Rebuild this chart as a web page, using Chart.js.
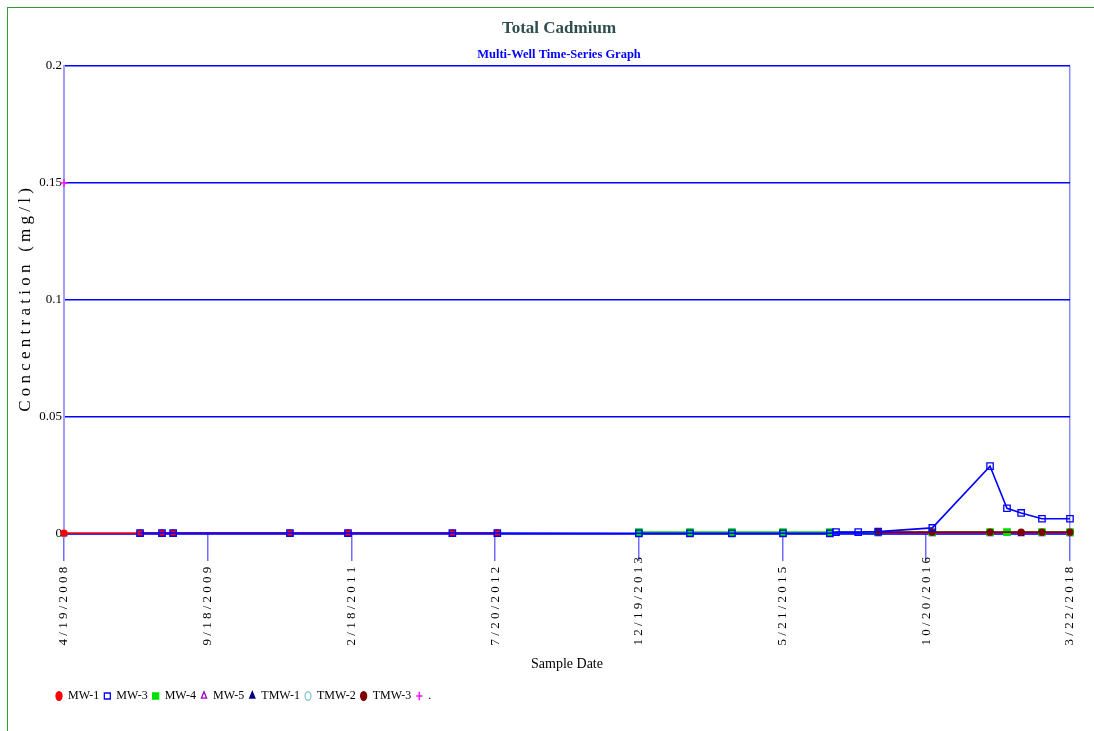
<!DOCTYPE html>
<html>
<head>
<meta charset="utf-8">
<script src="https://cdn.jsdelivr.net/npm/chart.js@4"></script>
<style>
  html, body { margin: 0; padding: 0; background: #fff; }
  #wrap { position: relative; width: 1094px; height: 731px; }
  #frame { position: absolute; left: 7px; top: 7px; right: 0; bottom: 0;
           border-left: 1px solid #2f9a2f; border-top: 1px solid #2f9a2f; }
  canvas { position: absolute; left: 0; top: 0; }
</style>
</head>
<body>
<div id="wrap">
  <div id="frame"></div>
  <canvas id="chart" width="1094" height="731"></canvas>
</div>
<script>
// ---- data (dates are sample dates, values in mg/l) ----
const startDate = '2008-04-19';
const endDate = '2018-03-22';
const xTickLabels = ['4/19/2008', '9/18/2009', '2/18/2011', '7/20/2012',
                     '12/19/2013', '5/21/2015', '10/20/2016', '3/22/2018'];

const mw1Dates = ['2008-04-19', '2009-01-18', '2009-04-07', '2009-05-17',
                  '2010-07-12', '2011-02-06', '2012-02-17', '2012-07-28'];
const mw1Values = [0.0004, 0.0004, 0.0004, 0.0004, 0.0004, 0.0004, 0.0004, 0.0004];

const mw3Dates = ['2009-01-18', '2009-04-07', '2009-05-17', '2010-07-12', '2011-02-06',
                  '2012-02-17', '2012-07-28', '2013-12-20', '2014-06-22', '2014-11-20',
                  '2015-05-23', '2015-11-08', '2015-11-30', '2016-02-18', '2016-04-30',
                  '2016-11-11', '2017-06-07', '2017-08-07', '2017-09-27', '2017-12-11',
                  '2018-03-22'];
const mw3Values = [0.0004, 0.0004, 0.0004, 0.0004, 0.0004,
                   0.0004, 0.0004, 0.0003, 0.0003, 0.0003,
                   0.0003, 0.0003, 0.0008, 0.0008, 0.001,
                   0.0026, 0.029, 0.011, 0.009, 0.0065,
                   0.0065];

const mw4Dates = ['2013-12-20', '2014-06-22', '2014-11-20', '2015-05-23', '2015-11-08',
                  '2016-04-30', '2016-11-11', '2017-06-07', '2017-08-07', '2017-12-11',
                  '2018-03-22'];
const mw4Values = [0.0008, 0.0008, 0.0008, 0.0008, 0.0008,
                   0.0008, 0.0008, 0.0008, 0.0008, 0.0008, 0.0008];

const mw5Dates = ['2016-04-30', '2016-11-11', '2017-06-07', '2017-09-27', '2017-12-11', '2018-03-22'];
const mw5Values = [0.0004, 0.0004, 0.0004, 0.0004, 0.0004, 0.0004];

const tmw1Dates = ['2008-04-19', '2009-01-18', '2009-04-07', '2009-05-17', '2010-07-12',
                   '2011-02-06', '2012-02-17', '2012-07-28', '2013-12-20', '2014-06-22',
                   '2014-11-20', '2015-05-23', '2015-11-08', '2016-04-30', '2016-11-11',
                   '2017-06-07', '2017-09-27', '2017-12-11', '2018-03-22'];
const tmw1Values = [0, 0, 0, 0, 0, 0, 0, 0, 0, 0, 0, 0, 0, 0, 0, 0, 0, 0, 0];

const tmw2Dates = ['2008-04-19'];
const tmw2Values = [0];

const tmw3Dates = ['2016-04-30', '2016-11-11', '2017-06-07', '2017-09-27', '2017-12-11', '2018-03-22'];
const tmw3Values = [0.0008, 0.0008, 0.0008, 0.0008, 0.0008, 0.0008];

const dotDates = ['2008-04-19'];
const dotValues = [0.15];

// ---- helpers ----
const DAY = 86400000;
const t0 = Date.parse(startDate);
const dayOf = s => (Date.parse(s) - t0) / DAY;
const mdyDay = s => {
  const [m, d, y] = s.split('/').map(Number);
  return (Date.UTC(y, m - 1, d) - t0) / DAY;
};
const pts = (dates, vals) => dates.map((d, i) => ({ x: dayOf(d), y: vals[i] }));
const spaced = s => {
  let out = s.split('').join(' ');
  if (s.length < 10) out += ' \u2002';
  return out;
};

const serif = 'Liberation Serif';

function series(label, dates, vals, color, style, fill, radius, order, lineColor) {
  return {
    label,
    data: pts(dates, vals),
    borderColor: lineColor || color,
    borderWidth: 1.6,
    pointStyle: style,
    pointRadius: radius,
    pointBorderColor: color,
    pointBackgroundColor: fill ? color : 'rgba(255,255,255,0)',
    pointBorderWidth: 1.3,
    showLine: true,
    clip: false,
    order
  };
}

// shift title blocks and legend to match the reference placement
const placeBoxes = {
  id: 'placeBoxes',
  afterLayout(chart) {
    chart.boxes.forEach(b => {
      if (b === chart.legend) {
        b.left += 43;
      } else if (b.options && typeof b.options.text === 'string' && b.position === 'top') {
        b.left += 20;
        b.right += 20;
      }
    });
  }
};

new Chart(document.getElementById('chart'), {
  type: 'scatter',
  data: {
    datasets: [
      series('MW-1', mw1Dates, mw1Values, '#ff0000', 'circle', true, 3, 3),
      series('MW-3', mw3Dates, mw3Values, '#0000ff', 'rect', false, 4.5, 0),
      series('MW-4', mw4Dates, mw4Values, '#00e000', 'rect', true, 4.5, 2, '#22cc22'),
      series('MW-5', mw5Dates, mw5Values, '#9900bb', 'triangle', false, 3, 4),
      series('TMW-1', tmw1Dates, tmw1Values, '#000080', 'triangle', true, 3, 5, '#1a1aff'),
      series('TMW-2', tmw2Dates, tmw2Values, '#88cccc', 'circle', false, 3, 6),
      series('TMW-3', tmw3Dates, tmw3Values, '#800000', 'circle', true, 3, 1),
      series('.', dotDates, dotValues, '#ff00ff', 'cross', false, 4, 7)
    ]
  },
  options: {
    responsive: false,
    animation: false,
    layout: { padding: { left: 8, right: 24, top: 0, bottom: 19 } },
    plugins: {
      title: {
        display: true,
        text: 'Total Cadmium',
        color: '#2f4f4f',
        font: { family: serif, size: 17, weight: 'bold' },
        padding: { top: 18, bottom: 4 }
      },
      subtitle: {
        display: true,
        text: 'Multi-Well Time-Series Graph',
        color: '#0000ff',
        font: { family: serif, size: 12.5, weight: 'bold' },
        padding: { top: 5, bottom: 3.5 }
      },
      legend: {
        position: 'bottom',
        align: 'start',
        labels: {
          usePointStyle: true,
          boxHeight: 6,
          pointStyleWidth: 6,
          padding: 5,
          color: '#000',
          font: { family: serif, size: 12 },
          sort: (a, b) => a.datasetIndex - b.datasetIndex
        }
      },
      tooltip: { enabled: false }
    },
    scales: {
      x: {
        type: 'linear',
        min: 0,
        max: dayOf(endDate),
        afterBuildTicks: scale => {
          scale.ticks = xTickLabels.map(l => ({ value: mdyDay(l) }));
        },
        afterFit: scale => { scale.height = 151; },
        ticks: {
          autoSkip: false,
          maxRotation: 90,
          minRotation: 90,
          padding: -4,
          color: '#000',
          font: { family: serif, size: 13 },
          callback: (v, i) => spaced(xTickLabels[i])
        },
        grid: {
          drawOnChartArea: true,
          color: ctx => ctx.index === xTickLabels.length - 1 ? '#8c8cff' : 'rgba(0,0,0,0)',
          tickColor: '#6f6fff',
          tickLength: 27,
          lineWidth: 1.5
        },
        border: { display: false },
        title: {
          display: true,
          text: 'Sample Date',
          color: '#000',
          font: { family: serif, size: 14 },
          padding: { top: 4, bottom: 12.6 }
        }
      },
      y: {
        min: 0,
        max: 0.2,
        afterFit: scale => { scale.width = 56; },
        ticks: {
          stepSize: 0.05,
          padding: 2,
          color: '#000',
          font: { family: serif, size: 13 },
          callback: v => String(+v.toFixed(2))
        },
        grid: {
          color: '#0000ff',
          lineWidth: 1.5,
          drawTicks: false
        },
        border: { display: true, color: '#a0a0ff', width: 2 },
        title: {
          display: true,
          text: 'C o n c e n t r a t i o n   ( m g / l )',
          color: '#000',
          font: { family: serif, size: 17 },
          padding: { top: 7, bottom: 0 }
        }
      }
    }
  },
  plugins: [placeBoxes]
});
</script>
</body>
</html>
